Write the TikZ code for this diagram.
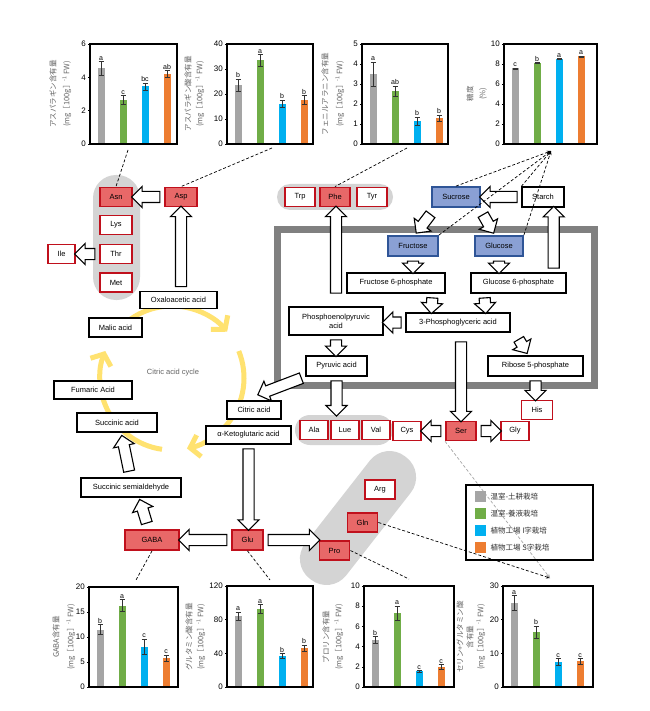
\documentclass[tikz,border=0pt]{standalone}
\usepackage{fontspec}
\setmainfont{Liberation Sans}
\newfontfamily\jpfont{Noto Sans CJK JP}
\usetikzlibrary{arrows.meta, positioning, shapes.arrows, calc}

\definecolor{bar0}{RGB}{165,165,165}
\definecolor{bar1}{RGB}{112,173,71}
\definecolor{bar2}{RGB}{0,176,240}
\definecolor{bar3}{RGB}{237,125,49}
\definecolor{aafill}{RGB}{232,104,104}
\definecolor{aaline}{RGB}{192,16,28}
\definecolor{sugfill}{RGB}{138,160,212}
\definecolor{sugline}{RGB}{47,85,151}
\definecolor{cycyellow}{RGB}{255,226,112}
\definecolor{pillgray}{RGB}{212,212,212}
\definecolor{framegray}{RGB}{128,128,128}
\definecolor{labgray}{RGB}{100,100,100}

\tikzset{
  box/.style={draw=black, line width=1.3pt, fill=white, inner sep=1pt, minimum height=19pt, font=\fontsize{7.5}{9}\selectfont},
  aa/.style={box, draw=aaline, line width=1.8pt, minimum width=30pt},
  aahit/.style={aa, fill=aafill},
  sug/.style={box, draw=sugline, line width=1.8pt, fill=sugfill, minimum height=20pt},
  pillbg/.style={fill=pillgray, draw=none, inner sep=0pt},
  blkarrow/.style={single arrow, draw=black, line width=1.1pt, fill=white, inner xsep=0pt, inner ysep=5pt, single arrow head extend=5pt, single arrow head indent=0pt},
  blk/.style={to path={let \p1=(\tikztostart), \p2=(\tikztotarget), \n1={veclen(\x2-\x1,\y2-\y1)} in -- (\tikztotarget) node[midway, sloped, allow upside down, blkarrow, minimum height={\n1-3}] {}}},
  link/.style={dash pattern=on 3pt off 2pt, line width=0.7pt},
  cyc/.style={line width=5pt, draw=cycyellow, -{Straight Barb[length=9pt, width=22pt]}},
  errbar/.style={line width=0.6pt, draw=black!80},
  sigmark/.style={font=\fontsize{7}{8}\selectfont, inner sep=1pt},
  ticklab/.style={font=\fontsize{8}{9}\selectfont, inner sep=1.5pt},
  ylab/.style={rotate=90, font=\jpfont\fontsize{7.5}{9}\selectfont, text=labgray, inner sep=0pt},
  legtext/.style={font=\jpfont\fontsize{7.5}{9}\selectfont, text=black!80, inner sep=0pt, anchor=west}
}

\newcommand{\unitlab}{(mg［100g］\textsuperscript{-1} FW)}

% #1 left, #2 bottom, #3 width, #4 height, #5 ymax, #6 tick step, #7 value/error/letter
\newcommand{\minichart}[7]{%
  \begin{scope}[shift={(#1,#2)}, yscale=-1]
    \foreach \val/\err/\sig [count=\k from 0] in {#7} {
      \pgfmathsetmacro{\cx}{11+22*\k}
      \pgfmathsetmacro{\hb}{\val/#5*#4}
      \pgfmathsetmacro{\lo}{(\val-\err)/#5*#4}
      \pgfmathsetmacro{\hi}{(\val+\err)/#5*#4}
      \fill[bar\k] ({\cx-3.5},0) rectangle ({\cx+3.5},\hb);
      \draw[errbar] (\cx,\lo) -- (\cx,\hi) ({\cx-2.5},\lo) -- ({\cx+2.5},\lo) ({\cx-2.5},\hi) -- ({\cx+2.5},\hi);
      \node[sigmark, above] at (\cx,\hi) {\sig};
    }
    \foreach \tv in {0,#6,...,#5}
      \draw[line width=0.6pt] (0,{\tv/#5*#4}) -- (-2.5,{\tv/#5*#4}) node[ticklab, left] {\tv};
    \draw[line width=1.2pt] (0,0) rectangle (#3,#4);
  \end{scope}}

\begin{document}
\begin{tikzpicture}[x=1pt, y=-1pt]
\useasboundingbox (0,0) rectangle (649,711);
\fill[white] (0,0) rectangle (649,711);

% charts, top row
\minichart{90}{144}{87}{100}{6}{2}{4.55/0.4/a, 2.65/0.25/c, 3.45/0.2/bc, 4.2/0.2/ab}
\minichart{227}{144}{86}{100}{40}{10}{23.5/2.5/b, 33.5/2.3/a, 16/1.5/b, 17.5/1.8/b}
\minichart{362}{144}{86}{100}{5}{1}{3.5/0.6/a, 2.65/0.25/ab, 1.15/0.2/b, 1.3/0.15/b}
\minichart{504}{144}{93}{100}{10}{2}{7.55/0.06/c, 8.1/0.05/b, 8.5/0.05/a, 8.75/0.05/a}
\node[ylab] at (53,94) {アスパラギン含有量};
\node[ylab] at (67,94) {\unitlab};
\node[ylab] at (188,94) {アスパラギン酸含有量};
\node[ylab] at (200,94) {\unitlab};
\node[ylab] at (325,94) {フェニルアラニン含有量};
\node[ylab] at (340,94) {\unitlab};
\node[ylab] at (470,94) {糖度};
\node[ylab] at (483,94) {(\%)};

% charts, bottom row
\minichart{89}{687}{89}{100}{20}{5}{11.5/1/b, 16.3/1.2/a, 8.1/1.5/c, 5.8/0.6/c}
\minichart{227}{687}{86}{101}{120}{40}{84/5/a, 93/5/a, 37/3/b, 46/4/b}
\minichart{364}{687}{90}{101}{10}{2}{4.65/0.35/b, 7.3/0.7/a, 1.55/0.1/c, 2.0/0.2/c}
\minichart{503}{687}{90}{101}{30}{10}{25/2.2/a, 16.3/1.8/b, 7.5/1/c, 7.6/0.8/c}
\node[ylab] at (56,637) {GABA含有量};
\node[ylab] at (71,637) {\unitlab};
\node[ylab] at (189,637) {グルタミン酸含有量};
\node[ylab] at (201,637) {\unitlab};
\node[ylab] at (326,637) {プロリン含有量};
\node[ylab] at (339,637) {\unitlab};
\node[ylab] at (460,637) {セリン+グルタミン酸};
\node[ylab] at (470,637) {含有量};
\node[ylab] at (481,637) {\unitlab};

% plastid frame and citric acid cycle
\draw[line width=7pt, draw=framegray] (277,229) rectangle (594,385);
\coordinate (cyccentre) at (172,378);
\draw[cyc] (cyccentre) ++(-140:72) arc[start angle=-140, end angle=-40, radius=72];
\draw[cyc] (cyccentre) ++(-22:72) arc[start angle=-22, end angle=78, radius=72];
\draw[cyc] (cyccentre) ++(98:72) arc[start angle=98, end angle=202, radius=72];
\node[font=\fontsize{7.5}{9}\selectfont, text=labgray] (cyclab) at (173,373) {Citric acid cycle};

% grey groups
\node[pillbg, minimum width=47pt, minimum height=125pt, rounded corners=23pt] (asnpill) at (116.5,237.5) {};
\node[pillbg, minimum width=116pt, minimum height=26pt, rounded corners=13pt] (arompill) at (335,197) {};
\node[pillbg, minimum width=98pt, minimum height=30pt, rounded corners=15pt] (alvpill) at (344,430) {};
\node[pillbg, minimum width=155pt, minimum height=52pt, rounded corners=25pt, rotate=52] (glnpill) at (358,518) {};

% amino acids
\node[aahit, minimum width=32pt] (asn) at (116,197) {Asn};
\node[aa, minimum width=32pt] (lys) at (116,225) {Lys};
\node[aa, minimum width=32pt] (thr) at (116,254) {Thr};
\node[aa, minimum width=32pt] (met) at (116,282.5) {Met};
\node[aa, minimum width=27pt] (ile) at (61.5,254) {Ile};
\node[aahit, minimum width=32pt] (asp) at (181,197) {Asp};
\node[aa] (trp) at (300,197) {Trp};
\node[aahit] (phe) at (335,197) {Phe};
\node[aa] (tyr) at (372,197) {Tyr};
\node[aa, minimum width=28pt] (ala) at (314,430) {Ala};
\node[aa, minimum width=28pt] (lue) at (345,430) {Lue};
\node[aa, minimum width=28pt] (val) at (376,430) {Val};
\node[aahit] (ser) at (461,431) {Ser};
\node[aa, minimum width=28pt] (cys) at (407,431) {Cys};
\node[aa, minimum width=28pt] (gly) at (515,431) {Gly};
\node[aa, minimum width=31pt] (his) at (537,410) {His};
\node[aa] (arg) at (380,489.5) {Arg};
\node[aahit] (gln) at (362.5,522.5) {Gln};
\node[aahit] (pro) at (334.5,550.5) {Pro};
\node[aahit, minimum width=54pt, minimum height=20pt] (gaba) at (152,540) {GABA};
\node[aahit, minimum width=31pt, minimum height=20pt] (glu) at (247.5,540) {Glu};

% sugars and intermediates
\node[sug, minimum width=48pt] (sucrose) at (456,197) {Sucrose};
\node[box, minimum width=42pt, minimum height=20pt] (starch) at (543,197) {Starch};
\node[sug, minimum width=50pt] (fructose) at (413,246) {Fructose};
\node[sug, minimum width=48pt] (glucose) at (499,246) {Glucose};
\node[box, minimum width=98pt, minimum height=20pt] (f6p) at (396,283) {Fructose 6-phosphate};
\node[box, minimum width=95pt, minimum height=20pt] (g6p) at (518.5,283) {Glucose 6-phosphate};
\node[box, minimum width=94pt, minimum height=28pt, align=center] (pep) at (336,321) {Phosphoenolpyruvic\\acid};
\node[box, minimum width=104pt] (pga) at (458,322.5) {3-Phosphoglyceric acid};
\node[box, minimum width=61pt, minimum height=20pt] (pyr) at (336.5,366) {Pyruvic acid};
\node[box, minimum width=95pt, minimum height=20pt] (ribose) at (535.5,366) {Ribose 5-phosphate};
\node[box, minimum width=77pt, minimum height=17pt] (oxa) at (178.5,300) {Oxaloacetic acid};
\node[box, minimum width=53pt] (malic) at (115.5,327.5) {Malic acid};
\node[box, minimum width=78pt, minimum height=18pt] (fumaric) at (93,390) {Fumaric Acid};
\node[box, minimum width=80pt] (succinic) at (117,422.5) {Succinic acid};
\node[box, minimum width=54pt, minimum height=18pt] (citric) at (254,410) {Citric acid};
\node[box, minimum width=85pt, minimum height=18pt] (akg) at (248.5,435) {α-Ketoglutaric acid};
\node[box, minimum width=100pt] (ssa) at (131,487.5) {Succinic semialdehyde};

% block arrows
\path (asp.west) to[blk] (asn.east);
\path (asp.south |- oxa.north) to[blk] (asp.south);
\path (thr.west) to[blk] (ile.east);
\path (starch.west) to[blk] (sucrose.east);
\path ($(sucrose.south west)+(2,3)$) to[blk] ($(fructose.north)+(4,-3)$);
\path ($(sucrose.south east)+(0,3)$) to[blk] ($(glucose.north)+(-6,-3)$);
\path ($(g6p.north east)+(-13,0)$) to[blk] ($(starch.south east)+(-11,0)$);
\path (fructose.south) to[blk] (fructose.south |- f6p.north);
\path (glucose.south) to[blk] (glucose.south |- g6p.north);
\path ($(f6p.south east)+(-13,0)$) to[blk] ($(pga.north west)+(26,0)$);
\path ($(g6p.south west)+(14,0)$) to[blk] ($(pga.north east)+(-25,0)$);
\path (pga.west) to[blk] (pep.east |- pga.west);
\path (pep.south) to[blk] (pep.south |- pyr.north);
\path ($(pep.north)+(0,-9)$) to[blk] (pep.north |- phe.south);
\path ($(pga.south east)+(6,3)$) to[blk] ($(ribose.north)+(-9,-3)$);
\path ($(ser.north |- pga.south)+(0,5)$) to[blk] (ser.north);
\path (pyr.south) to[blk] (pyr.south |- alvpill.north);
\path (pyr.south west) to[blk] ($(citric.north)+(5,-6)$);
\path (ribose.south) to[blk] (ribose.south |- his.north);
\path (ser.west) to[blk] (cys.east);
\path (ser.east) to[blk] (gly.west);
\path (akg.south) to[blk] (akg.south |- glu.north);
\path (glu.west) to[blk] (gaba.east);
\path (glu.east) to[blk] (glu.east -| pro.west);
\path ($(gaba.north)+(-4,-2)$) to[blk] ($(ssa.south)+(9,3)$);
\path ($(ssa.north)+(-1,-2)$) to[blk] ($(succinic.south)+(5,4)$);

% links to the charts
\coordinate (c1) at (128,150);
\coordinate (c2) at (272,148);
\coordinate (c3) at (407,148);
\coordinate (c4) at (551,151);
\coordinate (c5) at (136,580);
\coordinate (c6) at (270,580);
\coordinate (c7) at (409,579);
\coordinate (c8) at (550,578);
\draw[link] (c1) -- (asn.north);
\draw[link] (c2) -- (asp.north);
\draw[link] (c3) -- (phe.north);
\foreach \n in {sucrose.north, fructose.north east, glucose.north east, starch.north west}
  \draw[link, -{Stealth[length=4pt, width=3.5pt]}] (\n) -- (c4);
\draw[link] (gaba.south) -- (c5);
\draw[link] (glu.south) -- (c6);
\draw[link] (pro.east) -- (c7);
\draw[link, -{Stealth[length=4pt, width=3.5pt]}] (gln.east) -- (c8);
\draw[link, draw=black!35, -{Stealth[length=4pt, width=3.5pt]}] (ser.south west) -- (c8);

% legend
\node[draw, line width=1.2pt, minimum width=127pt, minimum height=75pt, inner sep=0pt] (legend) at (529.5,522.5) {};
\foreach \c/\t [count=\k from 0] in {bar0/温室-土耕栽培, bar1/温室-養液栽培, bar2/植物工場 I字栽培, bar3/植物工場 S字栽培} {
  \fill[\c] ($(legend.north west)+(10,{6.5+17*\k})$) rectangle ++(11,11);
  \node[legtext] at ($(legend.north west)+(25,{12+17*\k})$) {\t};
}
\end{tikzpicture}
\end{document}
